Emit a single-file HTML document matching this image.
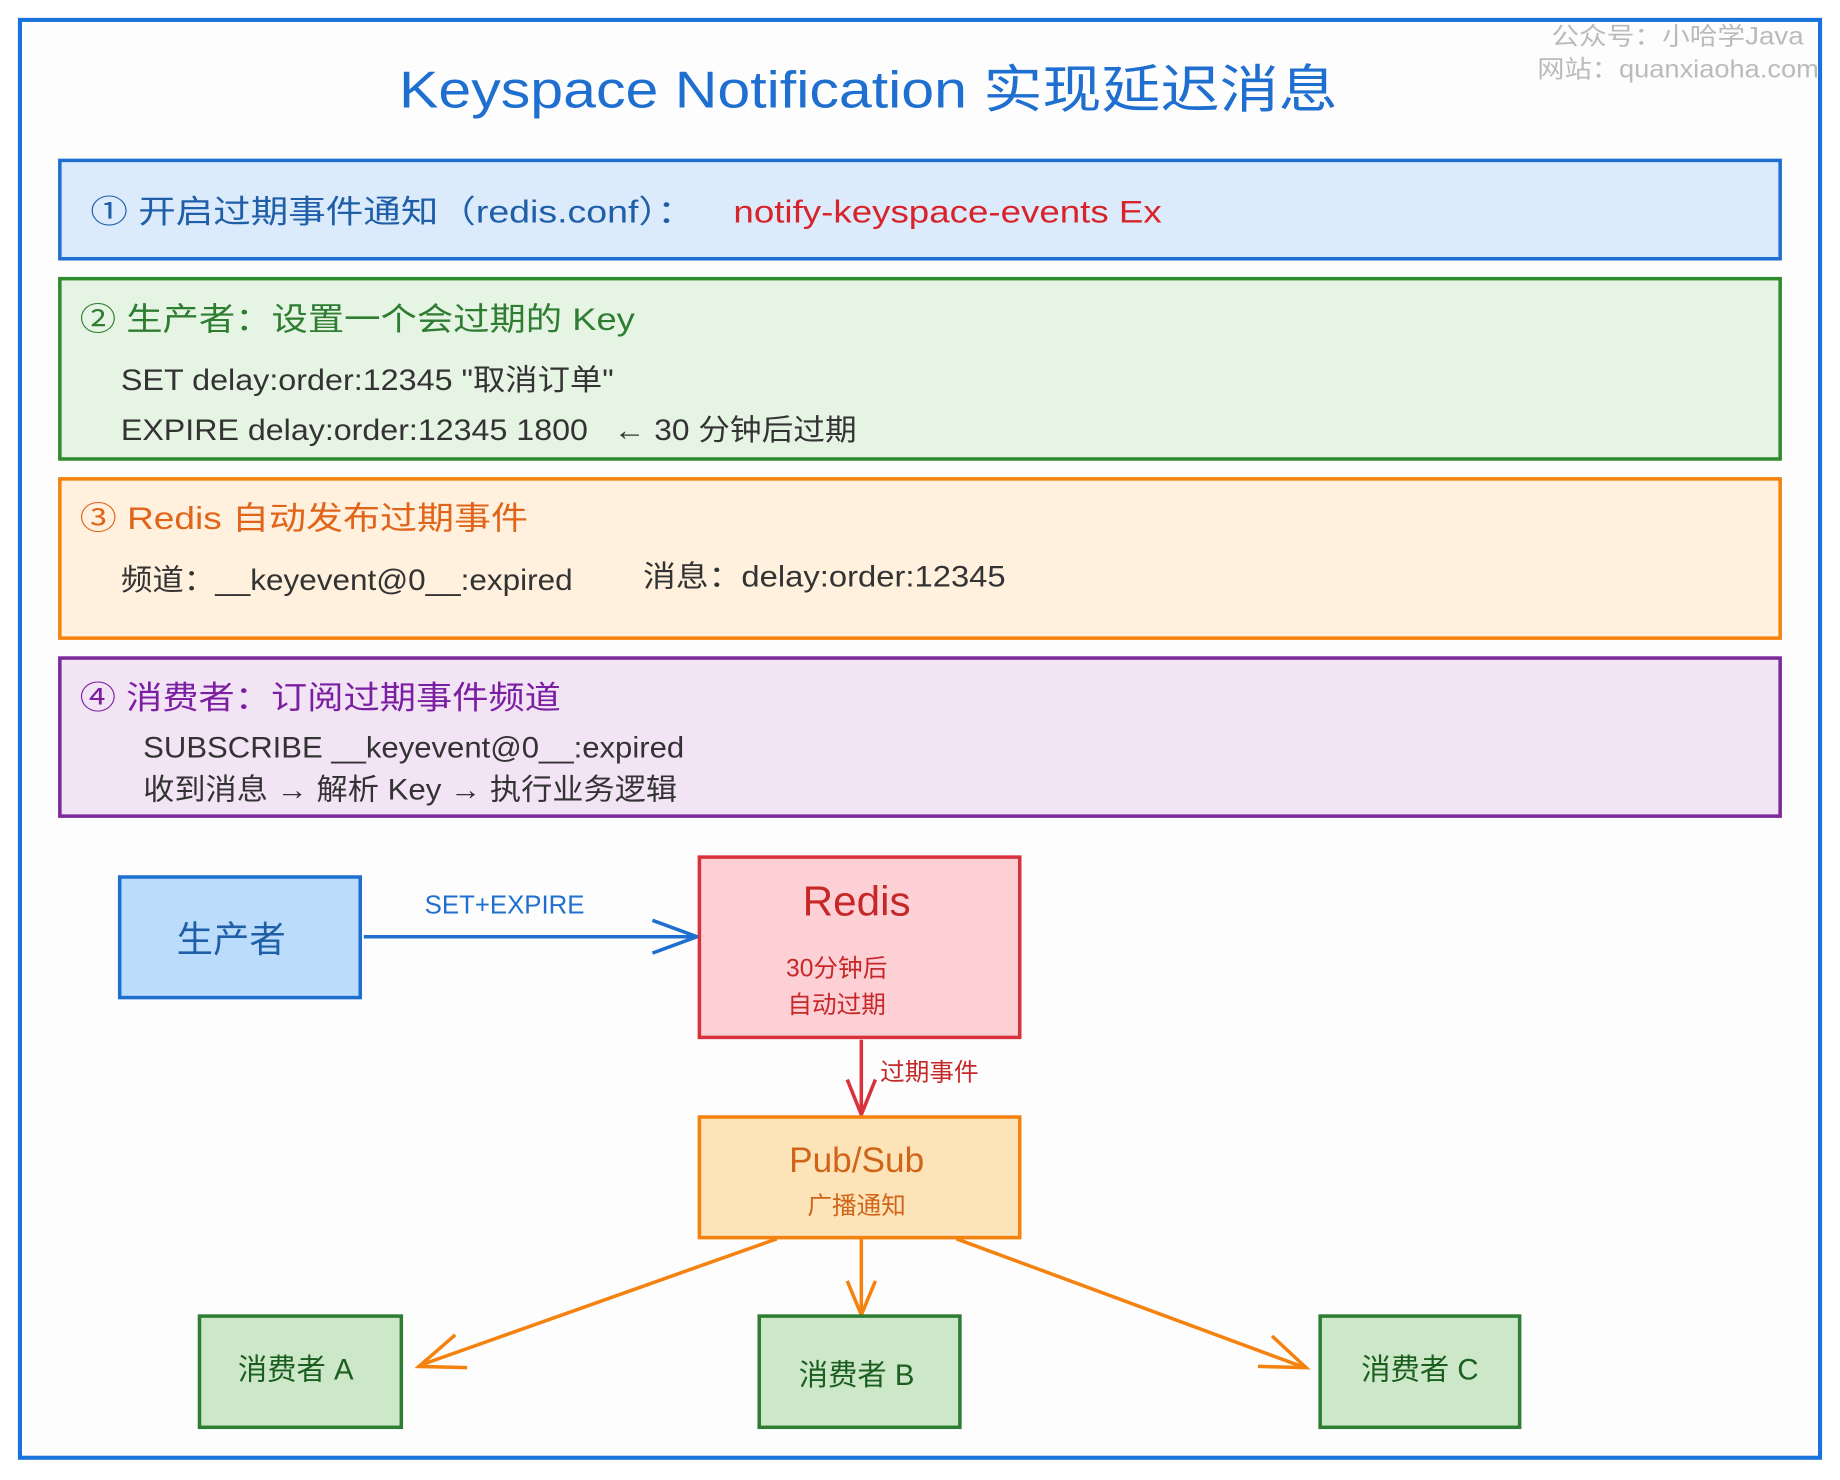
<!DOCTYPE html>
<html><head><meta charset="utf-8"><style>
html,body{margin:0;padding:0;background:#fff;width:1840px;height:1480px;overflow:hidden}
svg{display:block}
text{font-family:"Liberation Sans","Noto Sans CJK SC",sans-serif}
</style></head><body>
<svg width="1840" height="1480" viewBox="0 0 1568 1264" preserveAspectRatio="none" xmlns="http://www.w3.org/2000/svg">
<rect x="0" y="0" width="1568" height="1264" fill="#ffffff"/>
<rect x="17" y="17" width="1534" height="1228" fill="#fdfdfd" stroke="#1a73d8" stroke-width="3.5"/>
<text x="340" y="92" font-size="44" fill="#1f6fd0" textLength="800" lengthAdjust="spacingAndGlyphs">Keyspace Notification 实现延迟消息</text>
<text x="1322" y="38" font-size="21" fill="#bbbbbb" textLength="215" lengthAdjust="spacingAndGlyphs">公众号：小哈学Java</text>
<text x="1310" y="66" font-size="21" fill="#bbbbbb" textLength="240" lengthAdjust="spacingAndGlyphs">网站：quanxiaoha.com</text>

<rect x="51" y="137" width="1466" height="84" fill="#dcebfb" stroke="#1f6fd0" stroke-width="3"/>
<text x="77" y="190" font-size="27" fill="#1f5fa8" textLength="515" lengthAdjust="spacingAndGlyphs">① 开启过期事件通知（redis.conf）：</text>
<text x="625" y="190" font-size="27" fill="#d8232a" textLength="365" lengthAdjust="spacingAndGlyphs">notify-keyspace-events Ex</text>

<rect x="51" y="238" width="1466" height="154" fill="#e6f4e4" stroke="#2e8b2e" stroke-width="3"/>
<text x="68" y="282" font-size="27" fill="#2e7d32" textLength="473" lengthAdjust="spacingAndGlyphs">② 生产者：设置一个会过期的 Key</text>
<text x="103" y="333" font-size="25" fill="#333" textLength="420" lengthAdjust="spacingAndGlyphs">SET delay:order:12345 "取消订单"</text>
<text x="103" y="376" font-size="25" fill="#333" textLength="398" lengthAdjust="spacingAndGlyphs">EXPIRE delay:order:12345 1800</text>
<text x="523" y="376" font-size="25" fill="#333" textLength="207" lengthAdjust="spacingAndGlyphs">← 30 分钟后过期</text>

<rect x="51" y="409" width="1466" height="136" fill="#fff1de" stroke="#f5820e" stroke-width="3"/>
<text x="68" y="452" font-size="27" fill="#e0651a" textLength="382" lengthAdjust="spacingAndGlyphs">③ Redis 自动发布过期事件</text>
<text x="103" y="504" font-size="25" fill="#333" textLength="385" lengthAdjust="spacingAndGlyphs">频道：__keyevent@0__:expired</text>
<text x="548" y="501" font-size="25" fill="#333" textLength="309" lengthAdjust="spacingAndGlyphs">消息：delay:order:12345</text>

<rect x="51" y="562" width="1466" height="135" fill="#f3e4f5" stroke="#7b2a9a" stroke-width="3"/>
<text x="68" y="605" font-size="27" fill="#7b1fa2" textLength="410" lengthAdjust="spacingAndGlyphs">④ 消费者：订阅过期事件频道</text>
<text x="122" y="647" font-size="25" fill="#333" textLength="461" lengthAdjust="spacingAndGlyphs">SUBSCRIBE __keyevent@0__:expired</text>
<text x="122" y="683" font-size="25" fill="#333" textLength="455" lengthAdjust="spacingAndGlyphs">收到消息 → 解析 Key → 执行业务逻辑</text>

<rect x="102" y="749" width="205" height="103" fill="#bcdcfb" stroke="#1f6fd0" stroke-width="3"/>
<text x="197" y="813" font-size="31" fill="#1f5fa8" text-anchor="middle">生产者</text>
<line x1="310" y1="800" x2="593" y2="800" stroke="#1f6fd0" stroke-width="3"/>
<polyline points="556,786 594,800 556,814" fill="none" stroke="#1f6fd0" stroke-width="3"/>
<text x="430" y="780" font-size="22" fill="#1f6fd0" text-anchor="middle">SET+EXPIRE</text>

<rect x="596" y="732" width="273" height="154" fill="#fdd0d6" stroke="#d8323c" stroke-width="3"/>
<text x="730" y="782" font-size="36" fill="#c62828" text-anchor="middle">Redis</text>
<text x="713" y="834" font-size="21" fill="#c62828" text-anchor="middle">30分钟后</text>
<text x="713" y="865" font-size="21" fill="#c62828" text-anchor="middle">自动过期</text>
<line x1="734" y1="888" x2="734" y2="951" stroke="#d8323c" stroke-width="3"/>
<polyline points="722,922 734,952 746,922" fill="none" stroke="#d8323c" stroke-width="3"/>
<text x="750" y="923" font-size="21" fill="#c62828">过期事件</text>

<rect x="596" y="954" width="273" height="103" fill="#fde3b8" stroke="#f5820e" stroke-width="3"/>
<text x="730" y="1001" font-size="30" fill="#d0651a" text-anchor="middle">Pub/Sub</text>
<text x="730" y="1037" font-size="21" fill="#d0651a" text-anchor="middle">广播通知</text>

<g stroke="#f5820e" stroke-width="3" fill="none">
<line x1="662" y1="1058" x2="358" y2="1166"/>
<polyline points="388,1140 357,1167 398,1168"/>
<line x1="734" y1="1058" x2="734" y2="1122"/>
<polyline points="722,1094 734,1123 746,1094"/>
<line x1="815" y1="1058" x2="1112" y2="1168"/>
<polyline points="1072,1167 1113,1168 1084,1141"/>
</g>

<g fill="#cce8c8" stroke="#2e7d32" stroke-width="3">
<rect x="170" y="1124" width="172" height="95"/>
<rect x="647" y="1124" width="171" height="95"/>
<rect x="1125" y="1124" width="170" height="95"/>
</g>
<g font-size="25" fill="#1b5e20" text-anchor="middle">
<text x="252" y="1178">消费者 A</text>
<text x="730" y="1183">消费者 B</text>
<text x="1210" y="1178">消费者 C</text>
</g>
</svg>
</body></html>
